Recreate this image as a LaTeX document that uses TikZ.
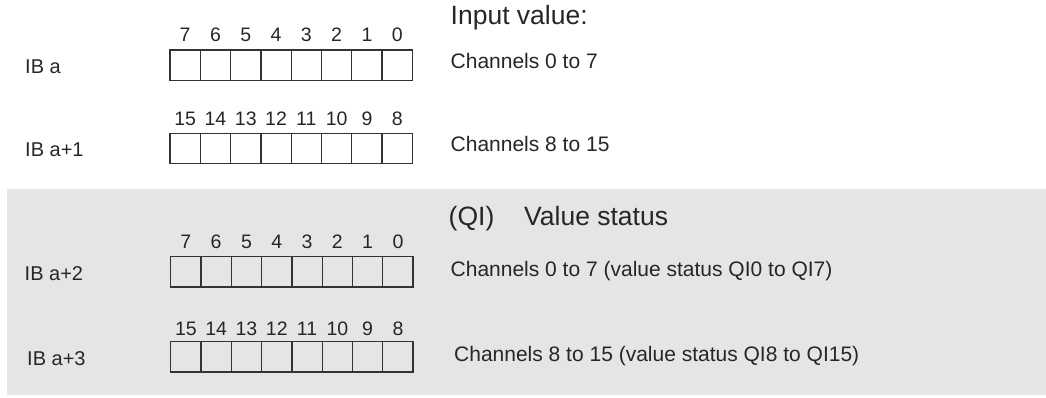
\documentclass[tikz,border=0pt]{standalone}
\usepackage{fontspec}
\setmainfont{Liberation Sans}
\begin{document}
\begin{tikzpicture}[x=1pt,y=-1pt,
  cell/.style={draw=black!80,line width=1.3pt,minimum width=30.3pt,minimum height=30.3pt,inner sep=0pt,outer sep=0pt},
  bitlbl/.style={anchor=base,inner sep=0pt,font=\fontsize{19.5}{22}\selectfont,text=black!85},
  bytelbl/.style={anchor=base west,inner sep=0pt,font=\fontsize{20}{24}\selectfont,text=black!85},
  desc/.style={anchor=base west,inner sep=0pt,font=\fontsize{21}{25}\selectfont,text=black!85},
  head/.style={anchor=base west,inner sep=0pt,font=\fontsize{26.5}{30}\selectfont,text=black!85}]
\useasboundingbox (0,0) rectangle (1046,397);
\fill[black!10] (7,189) rectangle (1046,395);
% row definitions: name, x0, ytop, label baseline
\foreach \r/\xo/\yt/\lb/\lo in {1/170/50/41.7/0, 2/170/133.3/125/8, 3/170.7/256.7/248.3/0, 4/170.7/341.7/335/8}{
  \foreach \i in {0,...,7}{
    \pgfmathsetmacro\cx{\xo+15.15+30.3*\i}
    \pgfmathtruncatemacro\bit{\lo+7-\i}
    \node[cell] (r\r c\i) at (\cx,\yt+15.15) {};
    \node[bitlbl] (b\r c\i) at (\cx,\lb) {\bit};
  }
}
\node[bytelbl] (ib0) at (25,73) {IB a};
\node[bytelbl] (ib1) at (25,156.7) {IB a+1};
\node[bytelbl] (ib2) at (24.5,280) {IB a+2};
\node[bytelbl] (ib3) at (27,365) {IB a+3};
\node[head] (h1) at (450.5,24) {Input value:};
\node[desc] (d0) at (450.5,68.3) {Channels 0 to 7};
\node[desc] (d1) at (450.5,151.7) {Channels 8 to 15};
\node[head] (h2) at (448.5,225.7) {(QI)};
\node[head] (h3) at (524,225.7) {Value status};
\node[desc] (d2) at (450.5,276.7) {Channels 0 to 7 (value status QI0 to QI7)};
\node[desc] (d3) at (454,361.7) {Channels 8 to 15 (value status QI8 to QI15)};
\end{tikzpicture}
\end{document}
